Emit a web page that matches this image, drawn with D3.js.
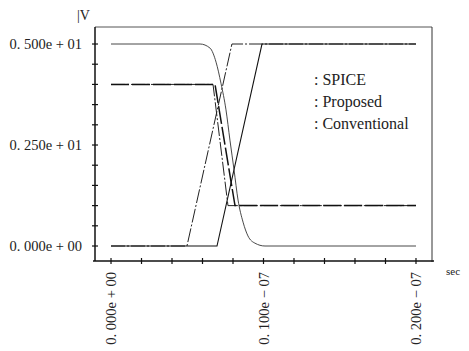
<!DOCTYPE html>
<html>
<head>
<meta charset="utf-8">
<script src="https://cdn.jsdelivr.net/npm/d3@7"></script>
<style>
  body { margin: 0; background: #fff; }
  svg { display: block; }
  text { font-family: "Liberation Serif", "DejaVu Serif", serif; fill: #222; }
</style>
</head>
<body>
<svg width="469" height="351"></svg>
<script>
// time in units of 1e-8 sec, voltage in V
const yTickVals = [0, 0.5, 1, 1.5, 2, 2.5, 3, 3.5, 4, 4.5, 5];
const yLabelVals = [0, 2.5, 5];
const yLabels = ["0. 000e + 00", "0. 250e + 01", "0. 500e + 01"];
const xTickVals = [0, 0.2, 0.4, 0.6, 0.8, 1.0, 1.2, 1.4, 1.6, 1.8, 2.0];
const xLabelVals = [0, 1, 2];
const xLabels = ["0. 000e + 00", "0. 100e \u2212 07", "0. 200e \u2212 07"];
const legendNames = ["SPICE", "Proposed", "Conventional"];

// smooth falling curve 5V -> 0V
const spiceT = [0, 0.584, 0.649, 0.689, 0.721, 0.754, 0.780, 0.807, 0.833, 0.866, 0.898, 0.944, 1.01, 2.0];
const spiceV = [5, 5, 4.9, 4.55, 4.03, 3.37, 2.62, 1.88, 1.14, 0.59, 0.25, 0.07, 0, 0];
// rising ramps 0V -> 5V
const rampAT = [0, 0.498, 0.793, 2.0];
const rampAV = [0, 0, 5, 5];
const rampBT = [0, 0.695, 0.99, 2.0];
const rampBV = [0, 0, 5, 5];
// falling 4V -> 1V
const propT = [0, 0.682, 0.813, 2.0];
const propV = [4, 4, 1, 1];
const convT = [0, 0.669, 0.767, 2.0];
const convV = [4, 4, 1, 1];

const svg = d3.select("svg");

const x = d3.scaleLinear().domain([-0.105, 2.105]).range([95, 432]);
const y = d3.scaleLinear().domain([-0.371, 5.421]).range([261, 27]);

// frame
svg.append("line").attr("x1", 95).attr("x2", 432).attr("y1", 27).attr("y2", 27)
   .attr("stroke", "#555").attr("stroke-width", 1);
svg.append("line").attr("x1", 432).attr("x2", 432).attr("y1", 27).attr("y2", 262)
   .attr("stroke", "#333").attr("stroke-width", 1);
svg.append("line").attr("x1", 95).attr("x2", 95).attr("y1", 27).attr("y2", 261)
   .attr("stroke", "#111").attr("stroke-width", 1.5);
svg.append("line").attr("x1", 93).attr("x2", 434).attr("y1", 261).attr("y2", 261)
   .attr("stroke", "#111").attr("stroke-width", 1.5);

// y ticks
svg.selectAll(".yt").data(yTickVals).enter().append("line")
   .attr("x1", 92).attr("x2", 98)
   .attr("y1", d => y(d)).attr("y2", d => y(d))
   .attr("stroke", "#111").attr("stroke-width", 1.2);
svg.selectAll(".yl").data(yLabelVals).enter().append("text")
   .attr("x", 82).attr("y", d => y(d) + 5)
   .attr("text-anchor", "end")
   .style("font-size", "14.5px")
   .text((d, i) => yLabels[i]);

// x ticks
svg.selectAll(".xt").data(xTickVals).enter().append("line")
   .attr("x1", d => x(d)).attr("x2", d => x(d))
   .attr("y1", 258).attr("y2", 264)
   .attr("stroke", "#111").attr("stroke-width", 1.2);
svg.selectAll(".xl").data(xLabelVals).enter().append("text")
   .attr("transform", d => `translate(${x(d) + 5},272) rotate(-90)`)
   .attr("text-anchor", "end")
   .style("font-size", "14.5px")
   .text((d, i) => xLabels[i]);

// unit labels
svg.append("text").attr("x", 77).attr("y", 20).style("font-size", "14px").text("|V");
svg.append("text").attr("x", 446).attr("y", 275).style("font-size", "11px").text("sec");

// curves
const line = (ts, vs, curve) => d3.line()
    .x(d => x(d[0])).y(d => y(d[1]))
    .curve(curve || d3.curveLinear)(ts.map((t, i) => [t, vs[i]]));

const g = svg.append("g").attr("fill", "none");

g.append("path").attr("d", line(rampAT, rampAV))
 .attr("stroke", "#222").attr("stroke-width", 1).attr("stroke-dasharray", "14,2,2,2");
g.append("path").attr("d", line(rampBT, rampBV))
 .attr("stroke", "#111").attr("stroke-width", 1.1);
g.append("path").attr("d", line(spiceT, spiceV, d3.curveMonotoneX))
 .attr("stroke", "#333").attr("stroke-width", 0.9);
g.append("path").attr("d", line(convT, convV))
 .attr("stroke", "#222").attr("stroke-width", 1).attr("stroke-dasharray", "14,2,2,2");
g.append("path").attr("d", line(propT, propV))
 .attr("stroke", "#111").attr("stroke-width", 1.5).attr("stroke-dasharray", "18,3");

// legend
svg.selectAll(".lg").data(legendNames).enter().append("text")
   .attr("x", 314).attr("y", (d, i) => 85 + i * 22)
   .style("font-size", "16px")
   .text(d => ": " + d);
</script>
</body>
</html>
